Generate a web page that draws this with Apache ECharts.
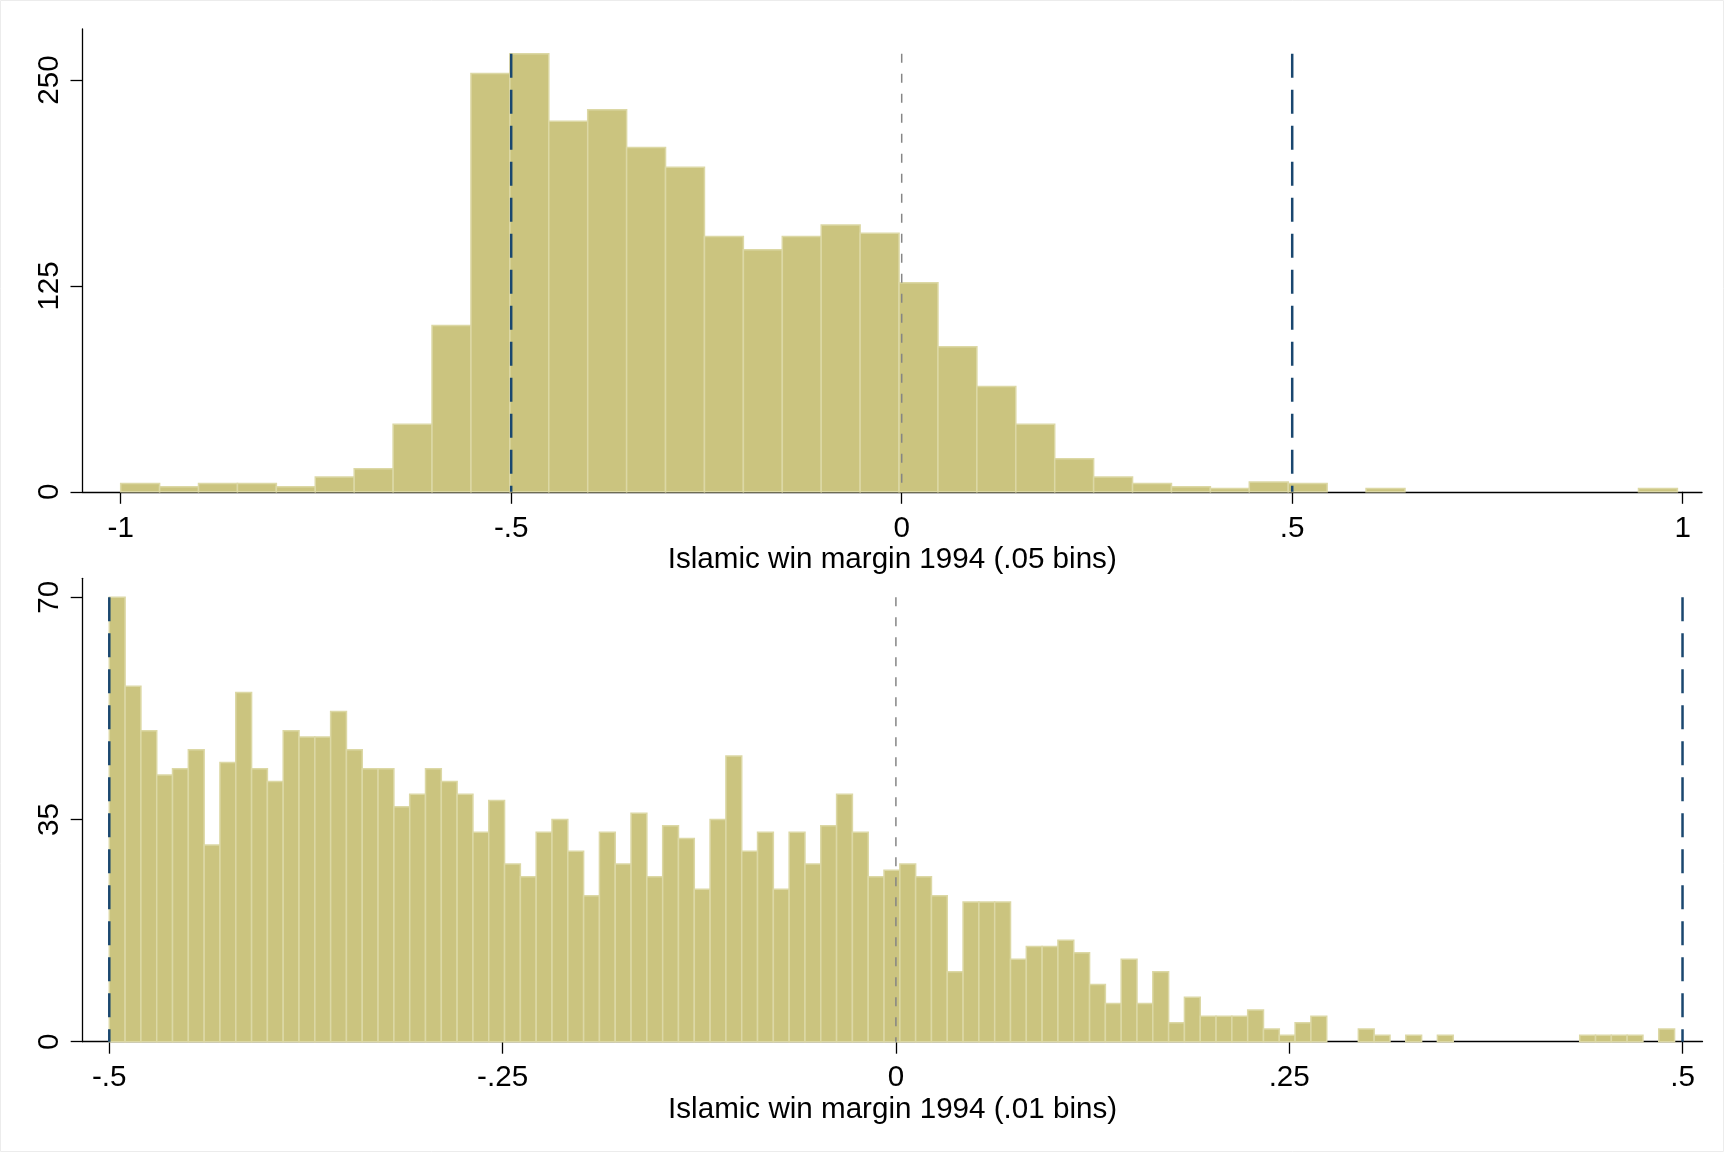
<!DOCTYPE html>
<html>
<head>
<meta charset="utf-8">
<script src="https://cdn.jsdelivr.net/npm/echarts@6/dist/echarts.min.js"></script>
<style>
  html, body { margin: 0; padding: 0; background: #ffffff; }
  #chart { width: 1725px; height: 1155px; }
</style>
</head>
<body>
<div id="chart"></div>
<script>
// ---------- DATA ----------
// Top panel: frequency per bin, 40 bins starting at -1
const topCounts = [5, 3, 5, 5, 3, 9, 14, 41, 101, 254,
                   266, 225, 232, 209, 197, 155, 147, 155, 162, 157,
                   127, 88, 64, 41, 20, 9, 5, 3, 2, 6,
                   5, 0, 2, 0, 0, 0, 0, 0, 0, 2];
const topBinStart = -1;
const topBinWidth = 0.04983;

// Bottom panel: frequency per bin, 99 bins starting at -0.5
const bottomCounts = [70, 56, 49, 42, 43, 46, 31, 44, 55, 43,
                      41, 49, 48, 48, 52, 46, 43, 43, 37, 39,
                      43, 41, 39, 33, 38, 28, 26, 33, 35, 30,
                      23, 33, 28, 36, 26, 34, 32, 24, 35, 45,
                      30, 33, 24, 33, 28, 34, 39, 33, 26, 27,
                      28, 26, 23, 11, 22, 22, 22, 13, 15, 15,
                      16, 14, 9, 6, 13, 6, 11, 3, 7, 4,
                      4, 4, 5, 2, 1, 3, 4, 0, 0, 2,
                      1, 0, 1, 0, 1, 0, 0, 0, 0, 0,
                      0, 0, 0, 1, 1, 1, 1, 0, 2];
const bottomBinStart = -0.5;
const bottomBinWidth = 0.01005;

const topXTicks = [-1, -0.5, 0, 0.5, 1];
const topXLabels = ['-1', '-.5', '0', '.5', '1'];
const topYTicks = [0, 125, 250];
const bottomXTicks = [-0.5, -0.25, 0, 0.25, 0.5];
const bottomXLabels = ['-.5', '-.25', '0', '.25', '.5'];
const bottomYTicks = [0, 35, 70];

const topTitle = 'Islamic win margin 1994 (.05 bins)';
const bottomTitle = 'Islamic win margin 1994 (.01 bins)';

// reference lines
const topNavyLines = [-0.5, 0.5];
const topGrayLines = [0];
const bottomNavyLines = [-0.5, 0.5];
const bottomGrayLines = [0];

// ---------- BUILD ----------
function bins(counts, start, width) {
  return counts.map((c, i) => [start + i * width, start + (i + 1) * width, c]);
}
const FONT = 'Liberation Sans, Arial, sans-serif';
const FS = 29.6;
const BAR_FILL = '#cbc47f';
const BAR_EDGE = '#dcd8a5';
const NAVY = '#1a476f';
const GRAY = '#858585';

function renderBar(params, api) {
  const x0 = api.value(0), x1 = api.value(1), c = api.value(2);
  if (!c) return null;
  const p0 = api.coord([x0, c]);
  const p1 = api.coord([x1, 0]);
  return {
    type: 'rect',
    shape: { x: p0[0], y: p0[1], width: p1[0] - p0[0], height: p1[1] - p0[1] },
    style: { fill: BAR_FILL, stroke: BAR_EDGE, lineWidth: 1.5 }
  };
}

function labelFor(ticks, labels) {
  return function (v) {
    for (let i = 0; i < ticks.length; i++) {
      if (Math.abs(ticks[i] - v) < 1e-9) return labels[i];
    }
    return '';
  };
}

// drawn from the top down so the dash pattern starts at the top end
function vline(x, top, idx, color, width, dash) {
  return {
    type: 'line', xAxisIndex: idx, yAxisIndex: idx,
    data: [[x, top], [x, 0]], symbol: 'none', silent: true, z: 5,
    lineStyle: { color: color, width: width, type: dash },
    animation: false
  };
}

const axisLineStyle = { color: '#000', width: 1.3 };

function xAxisDef(idx, min, max, ticks, labels, title, margin, gap) {
  return {
    type: 'value', gridIndex: idx, min: min, max: max,
    splitLine: { show: false },
    axisLine: { show: true, onZero: false, lineStyle: axisLineStyle },
    axisTick: { show: true, length: 12, lineStyle: axisLineStyle, customValues: ticks },
    axisLabel: { show: true, customValues: ticks, formatter: labelFor(ticks, labels),
                 color: '#000', fontFamily: FONT, fontSize: FS, margin: margin },
    name: title, nameLocation: 'middle', nameGap: gap,
    nameTextStyle: { color: '#000', fontFamily: FONT, fontSize: FS }
  };
}
function yAxisDef(idx, max, ticks) {
  return {
    type: 'value', gridIndex: idx, min: 0, max: max,
    splitLine: { show: false },
    axisLine: { show: true, onZero: false, lineStyle: axisLineStyle },
    axisTick: { show: true, length: 12, lineStyle: axisLineStyle, customValues: ticks },
    axisLabel: { show: true, customValues: ticks, rotate: 90, color: '#000',
                 fontFamily: FONT, fontSize: FS, margin: 18 }
  };
}

const topMax = Math.max(...topCounts);
const bottomMax = Math.max(...bottomCounts);

const series = [
  { type: 'custom', xAxisIndex: 0, yAxisIndex: 0, renderItem: renderBar,
    data: bins(topCounts, topBinStart, topBinWidth), encode: { x: [0, 1], y: 2 }, silent: true },
  { type: 'custom', xAxisIndex: 1, yAxisIndex: 1, renderItem: renderBar,
    data: bins(bottomCounts, bottomBinStart, bottomBinWidth), encode: { x: [0, 1], y: 2 }, silent: true }
];
topGrayLines.forEach(x => series.push(vline(x, topMax, 0, GRAY, 1.5, [9, 11])));
topNavyLines.forEach(x => series.push(vline(x, topMax, 0, NAVY, 2.5, [24, 12])));
bottomGrayLines.forEach(x => series.push(vline(x, bottomMax, 1, GRAY, 1.5, [9, 11])));
bottomNavyLines.forEach(x => series.push(vline(x, bottomMax, 1, NAVY, 2.5, [24, 12])));

const chart = echarts.init(document.getElementById('chart'), null, { renderer: 'canvas' });
chart.setOption({
  animation: false,
  backgroundColor: '#ffffff',
  grid: [
    { left: 82.5, right: 23, top: 29, height: 462.8 },
    { left: 82.7, right: 22.5, top: 578.3, height: 463.4 }
  ],
  xAxis: [
    xAxisDef(0, -1.0489, 1.0247, topXTicks, topXLabels, topTitle, 22, 53),
    xAxisDef(1, -0.5169, 0.5127, bottomXTicks, bottomXLabels, bottomTitle, 21, 53)
  ],
  yAxis: [
    yAxisDef(0, 281, topYTicks),
    yAxisDef(1, 73, bottomYTicks)
  ],
  graphic: [{
    type: 'rect', silent: true, z: -1,
    shape: { x: 0.5, y: 0.5, width: 1723, height: 1151 },
    style: { fill: 'none', stroke: '#ececec', lineWidth: 1 }
  }],
  series: series
});
</script>
</body>
</html>
